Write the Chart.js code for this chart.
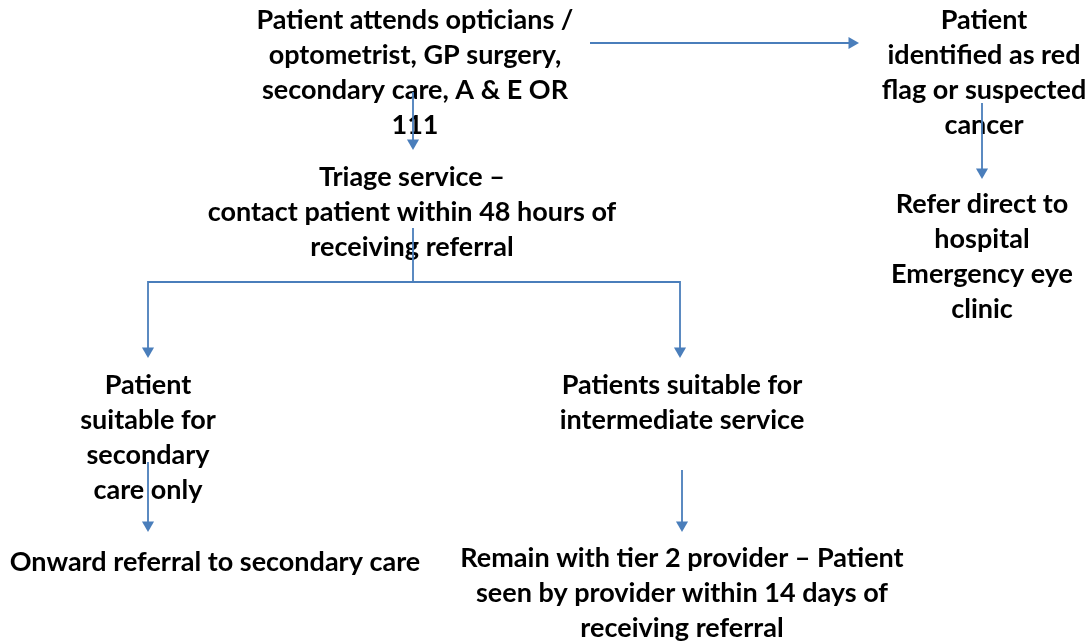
<!DOCTYPE html>
<html>
<head>
<meta charset="utf-8">
<script src="https://cdn.jsdelivr.net/npm/chart.js@4"></script>
<style>
  body { margin: 0; background: #fff; }
</style>
</head>
<body>
<canvas id="flow" width="1089" height="643"></canvas>
<script>
// boxes of the pathway (text only, no frames)
var nodeLines = [
  ["Patient attends opticians /", "optometrist, GP surgery,", "secondary care, A & E OR", "111"],
  ["Patient", "identified as red", "flag or suspected", "cancer"],
  ["Triage service \u2013", "contact patient within 48 hours of", "receiving referral"],
  ["Refer direct to", "hospital", "Emergency eye", "clinic"],
  ["Patient", "suitable for", "secondary", "care only"],
  ["Patients suitable for", "intermediate service"],
  ["Onward referral to secondary care"],
  ["Remain with tier 2 provider \u2013 Patient", "seen by provider within 14 days of", "receiving referral"]
];
var nodeX = [415, 984, 412, 982, 148, 682, 215, 682];
var nodeY = [20, 20, 177, 204, 385, 385, 562, 558];

// connectors: polylines in diagram units, heads = which ends get an arrow
var links = [
  { pts: [[590, 43], [852, 43]], heads: [false, true] },
  { pts: [[413, 92], [413, 143]], heads: [false, true] },
  { pts: [[982, 103], [982, 172]], heads: [false, true] },
  { pts: [[413, 228], [413, 282]], heads: [false, false] },
  { pts: [[148, 351], [148, 282], [680, 282], [680, 351]], heads: [true, true] },
  { pts: [[148, 462], [148, 525]], heads: [false, true] },
  { pts: [[682, 470], [682, 525]], heads: [false, true] }
];

var lineBlue = "#4a7ebb";

function headRotation(p, q) {
  // direction from q to p, triangle points up at 0 deg
  var dx = p[0] - q[0], dy = p[1] - q[1];
  return Math.atan2(dx, -dy) * 180 / Math.PI;
}

var datasets = links.map(function (l) {
  var n = l.pts.length;
  var radius = l.pts.map(function (p, i) {
    if (i === 0 && l.heads[0]) return 7;
    if (i === n - 1 && l.heads[1]) return 7;
    return 0;
  });
  var rot = l.pts.map(function (p, i) {
    if (i === 0) return headRotation(l.pts[0], l.pts[1]);
    if (i === n - 1) return headRotation(l.pts[n - 1], l.pts[n - 2]);
    return 0;
  });
  return {
    data: l.pts.map(function (p) { return { x: p[0], y: p[1] }; }),
    showLine: true,
    borderColor: lineBlue,
    borderWidth: 1.8,
    backgroundColor: lineBlue,
    pointStyle: "triangle",
    pointRadius: radius,
    pointRotation: rot,
    pointBorderWidth: 0,
    pointHoverRadius: radius,
    tension: 0
  };
});

var textPlugin = {
  id: "flowText",
  beforeDatasetsDraw: function (chart) {
    var ctx = chart.ctx;
    var xs = chart.scales.x, ys = chart.scales.y;
    ctx.save();
    ctx.fillStyle = "#000";
    ctx.font = "bold 27px Lato, 'Open Sans', sans-serif";
    ctx.textAlign = "center";
    ctx.textBaseline = "middle";
    nodeLines.forEach(function (lines, i) {
      lines.forEach(function (t, j) {
        ctx.fillText(t, xs.getPixelForValue(nodeX[i]), ys.getPixelForValue(nodeY[i] + j * 35));
      });
    });
    ctx.restore();
  }
};

new Chart("flow", {
  type: "scatter",
  data: { datasets: datasets },
  options: {
    responsive: false,
    animation: false,
    events: [],
    layout: { padding: 0, autoPadding: false },
    plugins: { legend: { display: false }, tooltip: { enabled: false } },
    scales: {
      x: { type: "linear", min: 0, max: 1089, display: false },
      y: { type: "linear", min: 0, max: 643, reverse: true, display: false }
    }
  },
  plugins: [textPlugin]
});
</script>
</body>
</html>
